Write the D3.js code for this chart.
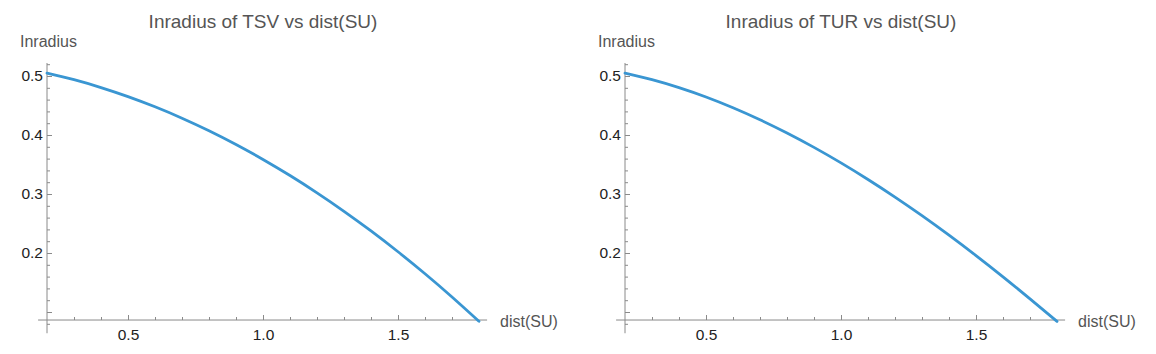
<!DOCTYPE html>
<html>
<head>
<meta charset="utf-8">
<script src="https://cdn.jsdelivr.net/npm/d3@7"></script>
<style>
  body { margin: 0; background: #fff; }
  svg { font-family: "Liberation Sans", Arial, sans-serif; }
</style>
</head>
<body>
<div id="chart"></div>
<script>
const W = 1156, H = 354;

// data
const dist = [0.2, 0.3, 0.4, 0.5, 0.6, 0.7, 0.8, 0.9, 1.0, 1.1, 1.2, 1.3, 1.4, 1.5, 1.6, 1.7, 1.8];
const inradiusTSV = [0.505, 0.4937, 0.4804, 0.4651, 0.4478, 0.4285, 0.4072, 0.3839, 0.3586, 0.3313, 0.3020, 0.2707, 0.2374, 0.2021, 0.1648, 0.1255, 0.0842];
const inradiusTUR = [0.505, 0.4938, 0.4803, 0.4644, 0.4462, 0.4258, 0.4034, 0.3790, 0.3527, 0.3246, 0.2948, 0.2633, 0.2302, 0.1956, 0.1596, 0.1222, 0.0840];

const panels = [
  {title: "Inradius of TSV vs dist(SU)", values: inradiusTSV},
  {title: "Inradius of TUR vs dist(SU)", values: inradiusTUR}
];

const xMajor = [0.5, 1.0, 1.5];
const xMinor = [0.3, 0.4, 0.6, 0.7, 0.8, 0.9, 1.1, 1.2, 1.3, 1.4, 1.6, 1.7];
const yMajor = [0.1, 0.2, 0.3, 0.4, 0.5];
const yMinor = [0.08, 0.12, 0.14, 0.16, 0.18, 0.22, 0.24, 0.26, 0.28, 0.32, 0.34, 0.36, 0.38,
                0.42, 0.44, 0.46, 0.48, 0.52];

const xOrigin = 0.2, yOrigin = 0.0864;
const axisColor = "#8a8a8a";

const svg = d3.select("#chart").append("svg")
  .attr("width", W)
  .attr("height", H);

const xScale = d3.scaleLinear().domain([0.2, 1.8]).range([47, 479]);
const yScale = d3.scaleLinear().domain([0.2, 0.5]).range([253, 76]);

function drawPanel(g, p) {
  // axis lines crossing at the origin
  g.append("line")
    .attr("x1", xScale(0.167)).attr("x2", xScale(1.83))
    .attr("y1", yScale(yOrigin)).attr("y2", yScale(yOrigin))
    .attr("stroke", axisColor);
  g.append("line")
    .attr("x1", xScale(xOrigin)).attr("x2", xScale(xOrigin))
    .attr("y1", yScale(0.064)).attr("y2", yScale(0.522))
    .attr("stroke", axisColor);

  // x ticks
  const xAxis = g.append("g")
    .attr("transform", `translate(0,${yScale(yOrigin)})`)
    .call(d3.axisBottom(xScale).tickValues(xMajor).tickSizeInner(-5).tickSizeOuter(0).tickPadding(9)
      .tickFormat(d3.format(".1f")));
  xAxis.select(".domain").remove();
  g.append("g")
    .attr("transform", `translate(0,${yScale(yOrigin)})`)
    .call(d3.axisBottom(xScale).tickValues(xMinor).tickSizeInner(-3).tickSizeOuter(0).tickFormat(""))
    .select(".domain").remove();

  // y ticks
  const yAxis = g.append("g")
    .attr("transform", `translate(${xScale(xOrigin)},0)`)
    .call(d3.axisLeft(yScale).tickValues(yMajor).tickSizeInner(-5).tickSizeOuter(0).tickPadding(4)
      .tickFormat(d => d === 0.1 ? "" : d3.format(".1f")(d)));
  yAxis.select(".domain").remove();
  g.append("g")
    .attr("transform", `translate(${xScale(xOrigin)},0)`)
    .call(d3.axisLeft(yScale).tickValues(yMinor).tickSizeInner(-3).tickSizeOuter(0).tickFormat(""))
    .select(".domain").remove();

  g.selectAll(".tick line").attr("stroke", axisColor);
  g.selectAll(".tick text")
    .attr("fill", "#222")
    .style("font-size", "15.5px")
    .style("font-family", "'Liberation Sans', Arial, sans-serif");

  // curve
  const line = d3.line()
    .x((d, i) => xScale(dist[i]))
    .y(d => yScale(d))
    .curve(d3.curveNatural);

  g.append("path")
    .datum(p.values)
    .attr("d", line)
    .attr("fill", "none")
    .attr("stroke", "#3a96d2")
    .attr("stroke-width", 2.8)
    .attr("stroke-linecap", "round");

  // labels
  g.append("text")
    .attr("x", 263)
    .attr("y", 28)
    .attr("text-anchor", "middle")
    .attr("fill", "#555")
    .style("font-size", "19px")
    .text(p.title);

  g.append("text")
    .attr("x", 20)
    .attr("y", 47)
    .attr("fill", "#555")
    .style("font-size", "16px")
    .text("Inradius");

  g.append("text")
    .attr("x", 500)
    .attr("y", 327)
    .attr("fill", "#555")
    .style("font-size", "16px")
    .text("dist(SU)");
}

panels.forEach((p, i) => {
  const g = svg.append("g").attr("transform", `translate(${i * 578},0)`);
  drawPanel(g, p);
});
</script>
</body>
</html>
